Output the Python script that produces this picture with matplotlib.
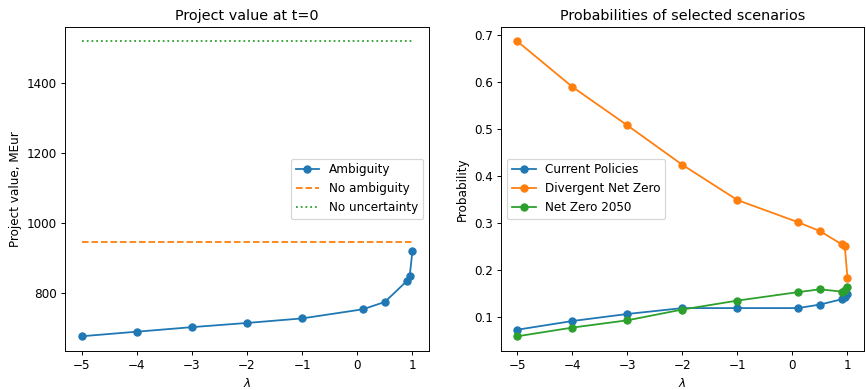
import matplotlib
matplotlib.use("Agg")
import matplotlib.pyplot as plt

lambdas = [-5, -4, -3, -2, -1, 0.1, 0.5, 0.9, 0.95, 1.0]
value_ambiguity = [676, 689, 702, 714, 727, 753, 774, 834, 848, 920]
value_no_ambiguity = 944
value_no_uncertainty = 1518

p_current = [0.073, 0.0915, 0.1065, 0.119, 0.119, 0.119, 0.1265, 0.138, 0.143, 0.150]
p_divergent = [0.687, 0.590, 0.508, 0.424, 0.349, 0.302, 0.283, 0.2545, 0.251, 0.183]
p_nz2050 = [0.059, 0.0775, 0.093, 0.116, 0.135, 0.153, 0.159, 0.154, 0.1585, 0.163]

W, H = 867, 390
DPI = 86
fig = plt.figure(figsize=(W / DPI, H / DPI), dpi=DPI)
ax1 = fig.add_axes([65 / W, 1 - 351 / H, (429 - 65) / W, (351 - 26.7) / H])
ax2 = fig.add_axes([501 / W, 1 - 351 / H, (864 - 501) / W, (351 - 26.7) / H])

ax1.plot(lambdas, value_ambiguity, marker="o", label="Ambiguity")
ax1.plot([lambdas[0], lambdas[-1]], [value_no_ambiguity] * 2, "--", label="No ambiguity")
ax1.plot([lambdas[0], lambdas[-1]], [value_no_uncertainty] * 2, ":", label="No uncertainty")
ax1.set_title("Project value at t=0")
ax1.set_xlabel(r"$\lambda$")
ax1.set_ylabel("Project value, MEur")
ax1.legend(loc="center right")

ax2.plot(lambdas, p_current, marker="o", label="Current Policies")
ax2.plot(lambdas, p_divergent, marker="o", label="Divergent Net Zero")
ax2.plot(lambdas, p_nz2050, marker="o", label="Net Zero 2050")
ax2.set_title("Probabilities of selected scenarios")
ax2.set_xlabel(r"$\lambda$")
ax2.set_ylabel("Probability")
ax2.legend(loc="center left")

fig.savefig("out.png", dpi=DPI)
